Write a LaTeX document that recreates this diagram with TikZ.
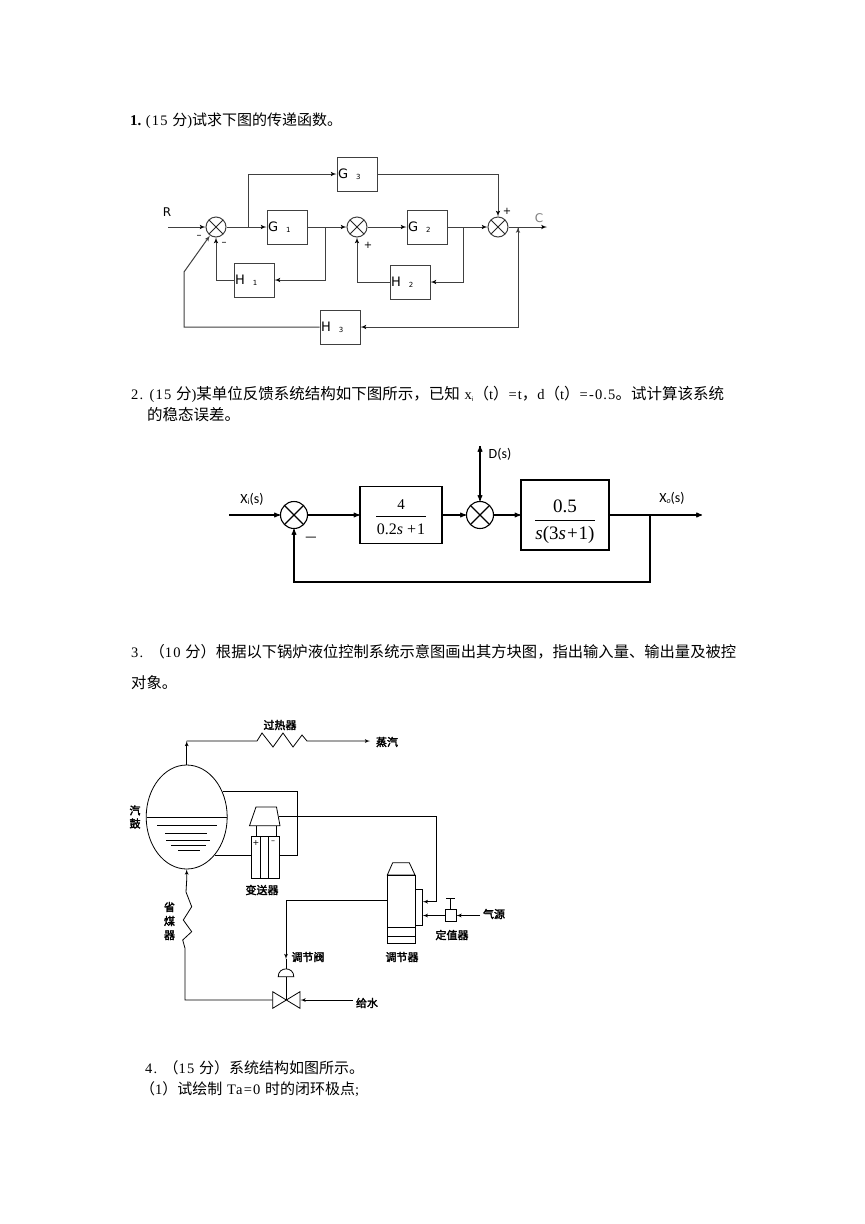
\documentclass[tikz,border=0pt]{standalone}
\usepackage{fontspec}
\setmainfont{Liberation Serif}
\newfontfamily\cjk{Noto Sans CJK SC}
\newfontfamily\cjkbold[FakeBold=2.5]{Noto Sans CJK SC}
\newfontfamily\lblsans{DejaVu Sans}
\newfontfamily\lblcal{Carlito}
\newfontfamily\halfw[LetterSpace=8]{Liberation Serif}
\usetikzlibrary{arrows,shapes.geometric,positioning}

\newcommand\gsub[2]{#1\hspace{8pt}\raisebox{-1pt}{\fontsize{7}{7}\selectfont #2}}
\newcommand\fsize[1]{\fontsize{#1}{#1}\selectfont}
\newcommand\hw[1]{{\halfw\fsize{14.5}#1}}

\tikzset{
  wireone/.style={draw=black!75,line width=1pt},
  blkone/.style={draw=black!75,line width=1pt,minimum height=34pt,
    text width=38pt,inner sep=1pt,align=left,font=\lblsans\fsize{13}},
  sumone/.style={draw=black!75,line width=1pt,circle,minimum size=20pt,inner sep=0pt,
    path picture={\draw[black!85,line width=1pt]
      (path picture bounding box.north west) -- (path picture bounding box.south east)
      (path picture bounding box.north east) -- (path picture bounding box.south west);}},
  lblone/.style={inner sep=0pt,font=\lblsans\fsize{12}},
  wiretwo/.style={draw,line width=1.1pt},
  blktwo/.style={draw,line width=1.1pt,inner sep=0pt},
  sumtwo/.style={draw,line width=1.1pt,circle,minimum size=27pt,inner sep=0pt,
    path picture={\draw[line width=1.1pt]
      (path picture bounding box.north west) -- (path picture bounding box.south east)
      (path picture bounding box.north east) -- (path picture bounding box.south west);}},
  lbltwo/.style={inner sep=0pt,font=\lblcal\fsize{14}},
  fracfont/.style={inner sep=0pt,font=\rmfamily\fsize{#1}},
  wirethree/.style={draw,line width=0.8pt},
  lblthree/.style={inner sep=0pt,font=\cjkbold\fsize{11}},
  question/.style={anchor=west,inner sep=0pt}
}

\begin{document}
\begin{tikzpicture}[x=1pt,y=-1pt,>=latex',font=\cjk\fsize{15}]
\useasboundingbox[fill=white] (0,0) rectangle (865,1224);

% question texts
\node[question] (q1) at (130,121) {{\rmfamily\bfseries 1.} \hw{(15 }分\hw{)}试求下图的传递函数。};
\node[question,font=\cjk\fsize{15.5}] (q2a) at (131,394) {\hw{2. (15 }分\hw{)}某单位反馈系统结构如下图所示，已知\hw{ x}\raisebox{-2pt}{\fsize{6}i}（\hw{t}）\hw{=t}，\hw{d}（\hw{t}）\hw{=-0.5}。试计算该系统};
\node[question,font=\cjk\fsize{15.5}] (q2b) at (147,415) {的稳态误差。};
\node[question,font=\cjk\fsize{15.3}] (q3a) at (131,652) {\hw{3. }（\hw{10 }分）根据以下锅炉液位控制系统示意图画出其方块图，指出输入量、输出量及被控};
\node[question,font=\cjk\fsize{15.3}] (q3b) at (131,683) {对象。};
\node[question] (q4a) at (145,1068) {\hw{4. }（\hw{15 }分）系统结构如图所示。};
\node[question] (q4b) at (140,1089) {（\hw{1}）试绘制\hw{ Ta=0 }时的闭环极点\hw{;}};

% diagram 1
\node[sumone] (s1) at (216,227) {};
\node[blkone] (g1) at (287,227) {\gsub{G}{1}};
\node[blkone] (g3) at (357,174) {\gsub{G}{3}};
\node[sumone] (s2) at (357,227) {};
\node[blkone] (g2) at (427,227) {\gsub{G}{2}};
\node[sumone] (s3) at (498,227) {};
\node[blkone] (h1) at (254,280) {\gsub{H}{1}};
\node[blkone] (h2) at (410,282) {\gsub{H}{2}};
\node[blkone] (h3) at (340,327) {\gsub{H}{3}};

\coordinate (in1) at (168,227);
\coordinate (out1) at (547,227);
\coordinate (b1) at (248,227);
\coordinate (b2) at (325,227);
\coordinate (b3) at (463,227);
\coordinate (b4) at (518,227);
\coordinate (k1) at (184,272);

\path[wireone,->]
  (in1) edge (s1)
  (s1) edge (g1)
  (b1) edge[to path={|- (\tikztotarget)}] (g3)
  (g1) edge (s2)
  (b2) edge[to path={|- (\tikztotarget)}] (h1)
  (h1) edge[to path={-| (\tikztotarget)}] (s1)
  (s2) edge (g2)
  (b3) edge[to path={|- (\tikztotarget)}] (h2)
  (h2) edge[to path={-| (\tikztotarget)}] (s2)
  (g2) edge (s3)
  (g3) edge[to path={-| (\tikztotarget)}] (s3)
  (s3) edge (out1)
  (b4) edge[to path={|- (\tikztotarget)}] (h3);
\draw[wireone,->] (h3) -| (k1) -- (s1);

\node[lblone] (rlab) at (167,212) {R};
\node[lblone,text=black!50] (clab) at (539,218) {C};
\node[lblone,font=\lblsans\fsize{10}] (m1) at (199,237) {–};
\node[lblone,font=\lblsans\fsize{10}] (m2) at (224,244) {–};
\node[lblone,font=\lblsans\fsize{10}] (p2) at (368,245) {+};
\node[lblone,font=\lblsans\fsize{10}] (p3) at (507,211) {+};

% diagram 2
\node[sumtwo] (t1) at (294,515) {};
\node[blktwo,minimum width=82pt,minimum height=57pt] (fa) at (401,515) {};
\node[sumtwo] (t2) at (480,515) {};
\node[blktwo,minimum width=88pt,minimum height=70pt] (fb) at (565,515) {};

\node[fracfont=15] (fanum) at (401,505) {4};
\draw[line width=0.7pt] (376,516) -- (426,516);
\node[fracfont=16] (faden) at (401,529) {0.2\textit{s}\hspace{4pt}+\hspace{1pt}1};
\node[fracfont=19] (fbnum) at (565,506) {0.5};
\draw[line width=0.7pt] (535,520) -- (595,520);
\node[fracfont=19] (fbden) at (565,535) {\textit{s}(3\textit{s}\hspace{1pt}+\hspace{1pt}1)};

\coordinate (in2) at (229,515);
\coordinate (out2) at (702,515);
\coordinate (d2) at (480,446);
\coordinate (b5) at (650,515);
\coordinate (k2) at (650,582);

\path[wiretwo,->,>=stealth']
  (in2) edge (t1)
  (t1) edge (fa)
  (fa) edge (t2)
  (d2) edge (t2)
  (t2) edge (fb)
  (fb) edge (out2);
\draw[wiretwo,->,>=stealth'] (b5) -- (k2) -| (t1);

\node[lbltwo] (xilab) at (252,499) {X\raisebox{-1pt}{\fsize{8}i}(s)};
\node[lbltwo] (dlab) at (500,454) {D(s)};
\node[lbltwo] (xolab) at (672,498) {X\raisebox{-1pt}{\fsize{8}\itshape o}(s)};
\node[lbltwo] (mlab) at (311,539) {—};

% diagram 3
\node[draw,ellipse,line width=0.8pt,minimum width=81pt,minimum height=104pt,inner sep=0pt] (drum) at (186.7,817) {};
\draw[line width=0.8pt] (146.5,817.7) -- (227,817.7);
\foreach \xa/\xb/\yy in {157/217/825.7, 165/207/833.3, 166/210/840, 171/206/845, 178/200/850}
  \draw[line width=0.8pt] (\xa,\yy) -- (\xb,\yy);

\coordinate (st1) at (186.7,741);
\coordinate (steam) at (370,741);
\draw[wirethree,->] (drum.north) -- (st1);
\draw[wirethree,->] (st1) -- (257,741) -- (262,733) -- (273,747) -- (283,733)
  -- (293,747) -- (302,735) -- (307,741) -- (steam);

\coordinate (tapx) at (297,0);
\draw[wirethree] (drum.35) -- (drum.35 -| tapx) |- (drum.-54);

% transmitter
\draw[wirethree,fill=white] (256,807) -- (276.5,807) -- (280,825.7) -- (249.5,825.7) -- cycle;
\draw[wirethree] (256,825.7) -- (256,836.7) (276,825.7) -- (276,836.7);
\node[draw,line width=0.8pt,fill=white,minimum width=27.3pt,minimum height=41.6pt,inner sep=0pt] (xmtr) at (265.3,857.5) {};
\draw[wirethree] (260,836.7) -- (260,878.3) (268.3,836.7) -- (268.3,878.3);
\node[lblthree,font=\lblsans\fsize{8}] (xp) at (256,843) {+};
\node[lblthree,font=\lblsans\fsize{8}] (xm) at (273,842) {–};

% controller
\draw[wirethree] (392.7,862.7) -- (409.3,862.7) -- (415,875) -- (387.3,875) -- cycle;
\node[draw,line width=0.8pt,minimum width=27.7pt,minimum height=68.3pt,inner sep=0pt] (ctrl) at (401.2,909.2) {};
\draw[wirethree] (387.3,927.3) -- (415,927.3) (387.3,936) -- (415,936);
\node[draw,line width=0.8pt,minimum width=7.3pt,minimum height=35.7pt,inner sep=0pt] (panel) at (418.7,907.2) {};

\coordinate (xo) at (278.5,816);
\coordinate (xc) at (436.7,816);
\coordinate (xd) at (436.7,901.7);
\draw[wirethree,->] (xo) -- (xc) -- (xd) -- (xd -| panel.east);

\node[draw,line width=0.8pt,minimum width=11pt,minimum height=12.4pt,inner sep=0pt] (setp) at (450.5,915.5) {};
\coordinate (stem) at (450.5,898.3);
\draw[wirethree] (setp.north) -- (stem) (446,898.3) -- (455,898.3);
\coordinate (air) at (480,915.5);
\draw[wirethree,->] (air) -- (setp);
\draw[wirethree,->] (setp) -- (setp -| panel.east);

% valve
\coordinate (co) at (387.3,900);
\coordinate (vin) at (286,959);
\draw[wirethree,->] (co) -| (vin);
\draw[wirethree] (vin) -- (286,969);
\draw[wirethree] (278.2,976.7) .. controls (278.2,966.3) and (293.8,966.3) .. (293.8,976.7) -- cycle;
\draw[wirethree] (286,976.7) -- (286,1000);
\draw[wirethree] (272.7,991.7) -- (300,1008.3) -- (300,991.7) -- (272.7,1008.3) -- cycle;
\coordinate (fw) at (353,1000);
\coordinate (vr) at (300.5,1000);
\draw[wirethree,->] (fw) -- (vr);

% economizer
\coordinate (vl) at (272.7,1000);
\draw[wirethree,->] (vl) -- (185,1000) -- (185,948.3) -- (182.7,940) -- (191.7,931.7)
  -- (183.3,920) -- (191.7,906.7) -- (186,892) -- (186.7,880) -- (drum.south);

% labels
\node[lblthree] (lsh) at (280,725) {过热器};
\node[lblthree] (lst) at (387,742) {蒸汽};
\node[lblthree,align=center] (ldr) at (135,817) {汽\\[2pt]鼓};
\node[lblthree] (lxm) at (262,890) {变送器};
\node[lblthree,align=center] (lec) at (169.5,921) {省\\[3pt]煤\\[3pt]器};
\node[lblthree] (lva) at (308,957) {调节阀};
\node[lblthree] (lct) at (402,957) {调节器};
\node[lblthree] (lsp) at (452,935) {定值器};
\node[lblthree] (lai) at (494,914) {气源};
\node[lblthree] (lfw) at (367,1003) {给水};
\end{tikzpicture}
\end{document}
